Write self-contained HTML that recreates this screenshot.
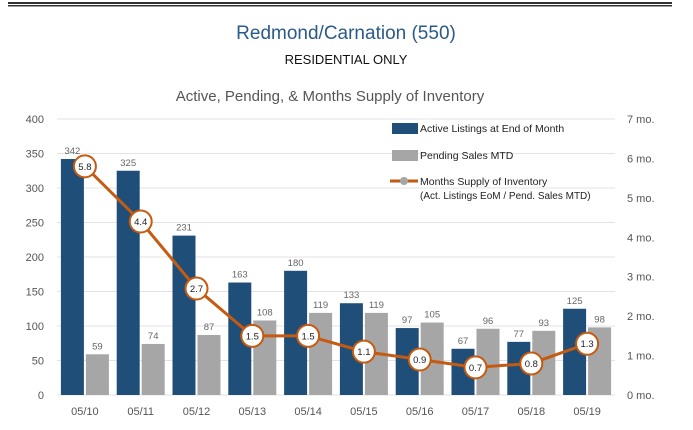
<!DOCTYPE html>
<html><head><meta charset="utf-8"><style>
body{margin:0;background:#fff;width:693px;height:425px;overflow:hidden;font-family:"Liberation Sans",sans-serif}
svg text{font-family:"Liberation Sans",sans-serif}
</style></head><body>
<svg width="693" height="425" viewBox="0 0 693 425">
<rect x="8" y="2" width="664" height="2" fill="#333"/>
<rect x="8" y="5" width="664" height="1.5" fill="#333"/>
<text x="346" y="39" text-anchor="middle" font-size="19" fill="#2a5a8a">Redmond/Carnation (550)</text>
<text x="346" y="64" text-anchor="middle" font-size="13" fill="#111">RESIDENTIAL ONLY</text>
<text x="330" y="101" text-anchor="middle" font-size="15" fill="#555">Active, Pending, &amp; Months Supply of Inventory</text>
<g id="grid"></g><g id="bars"></g><g id="line"></g><g id="axes"></g>
<g>
<rect x="392" y="123" width="26" height="11" fill="#1f4e79"/>
<text x="420" y="132" font-size="10.5" fill="#222">Active Listings at End of Month</text>
<rect x="392" y="150" width="26" height="11" fill="#a6a6a6"/>
<text x="420" y="159" font-size="10.5" fill="#222">Pending Sales MTD</text>
<line x1="390" y1="181" x2="418" y2="181" stroke="#c55a11" stroke-width="3"/>
<circle cx="404" cy="181" r="4" fill="#a6a6a6"/>
<text x="420" y="185" font-size="10.5" fill="#222">Months Supply of Inventory</text>
<text x="420" y="199" font-size="10" fill="#222">(Act. Listings EoM / Pend. Sales MTD)</text>
</g>
</svg>
<script>
const categories=["05/10","05/11","05/12","05/13","05/14","05/15","05/16","05/17","05/18","05/19"];
const active=[342,325,231,163,180,133,97,67,77,125];
const pending=[59,74,87,108,119,119,105,96,93,98];
const mos=[5.8,4.4,2.7,1.5,1.5,1.1,0.9,0.7,0.8,1.3];
const leftTicks=[0,50,100,150,200,250,300,350,400];
const rightTicks=[0,1,2,3,4,5,6,7];
const NS="http://www.w3.org/2000/svg";
const X0=57,X1=615,Y0=395,YT=119;
const yL=v=>Y0-(v/400)*(Y0-YT);
const yR=v=>Y0-(v/7)*(Y0-YT);
const step=(X1-X0)/categories.length;
const xc=i=>X0+step*(i+0.5);
function mk(tag,attrs,parent){const e=document.createElementNS(NS,tag);for(const k in attrs)e.setAttribute(k,attrs[k]);document.getElementById(parent).appendChild(e);return e;}
leftTicks.forEach(t=>{
 const l=mk("line",{x1:X0,x2:X1,y1:yL(t),y2:yL(t),stroke:"#e3e3e3","stroke-width":1},"grid");
 
 
 const tx=mk("text",{x:44,y:yL(t)+4,"text-anchor":"end","font-size":11,fill:"#555"},"axes");tx.textContent=t;
 
 
});
rightTicks.forEach(t=>{
 const tx=mk("text",{x:627,y:yR(t)+4,"font-size":11,fill:"#555"},"axes");tx.textContent=t+" mo.";
 
 
});
const bw=23;
categories.forEach((c,i)=>{
 const cx=xc(i);
 const b1=mk("rect",{x:cx-bw-1,y:yL(active[i]),width:bw,height:Y0-yL(active[i]),fill:"#1f4e79"},"bars");
 
 
 const b2=mk("rect",{x:cx+1,y:yL(pending[i]),width:bw,height:Y0-yL(pending[i]),fill:"#a6a6a6"},"bars");
 
 
 const t1=mk("text",{x:cx-bw/2-1,y:yL(active[i])-5,"text-anchor":"middle","font-size":9.5,fill:"#666"},"bars");t1.textContent=active[i];
 
 
 const t2=mk("text",{x:cx+bw/2+1,y:yL(pending[i])-5,"text-anchor":"middle","font-size":9.5,fill:"#666"},"bars");t2.textContent=pending[i];
 
 
 const xl=mk("text",{x:cx,y:415,"text-anchor":"middle","font-size":11,fill:"#555"},"axes");xl.textContent=c;
 
 
});
const pl=mk("polyline",{points:mos.map((v,i)=>xc(i)+","+yR(v)).join(" "),fill:"none",stroke:"#c55a11","stroke-width":3},"line");


mos.forEach((v,i)=>{
 const c=mk("circle",{cx:xc(i),cy:yR(v),r:11,fill:"#fff",stroke:"#c55a11","stroke-width":2},"line");
 
 
 const t=mk("text",{x:xc(i),y:yR(v)+3.5,"text-anchor":"middle","font-size":9.5,fill:"#222"},"line");t.textContent=v.toFixed(1);
 
 
});
</script>
</body></html>
